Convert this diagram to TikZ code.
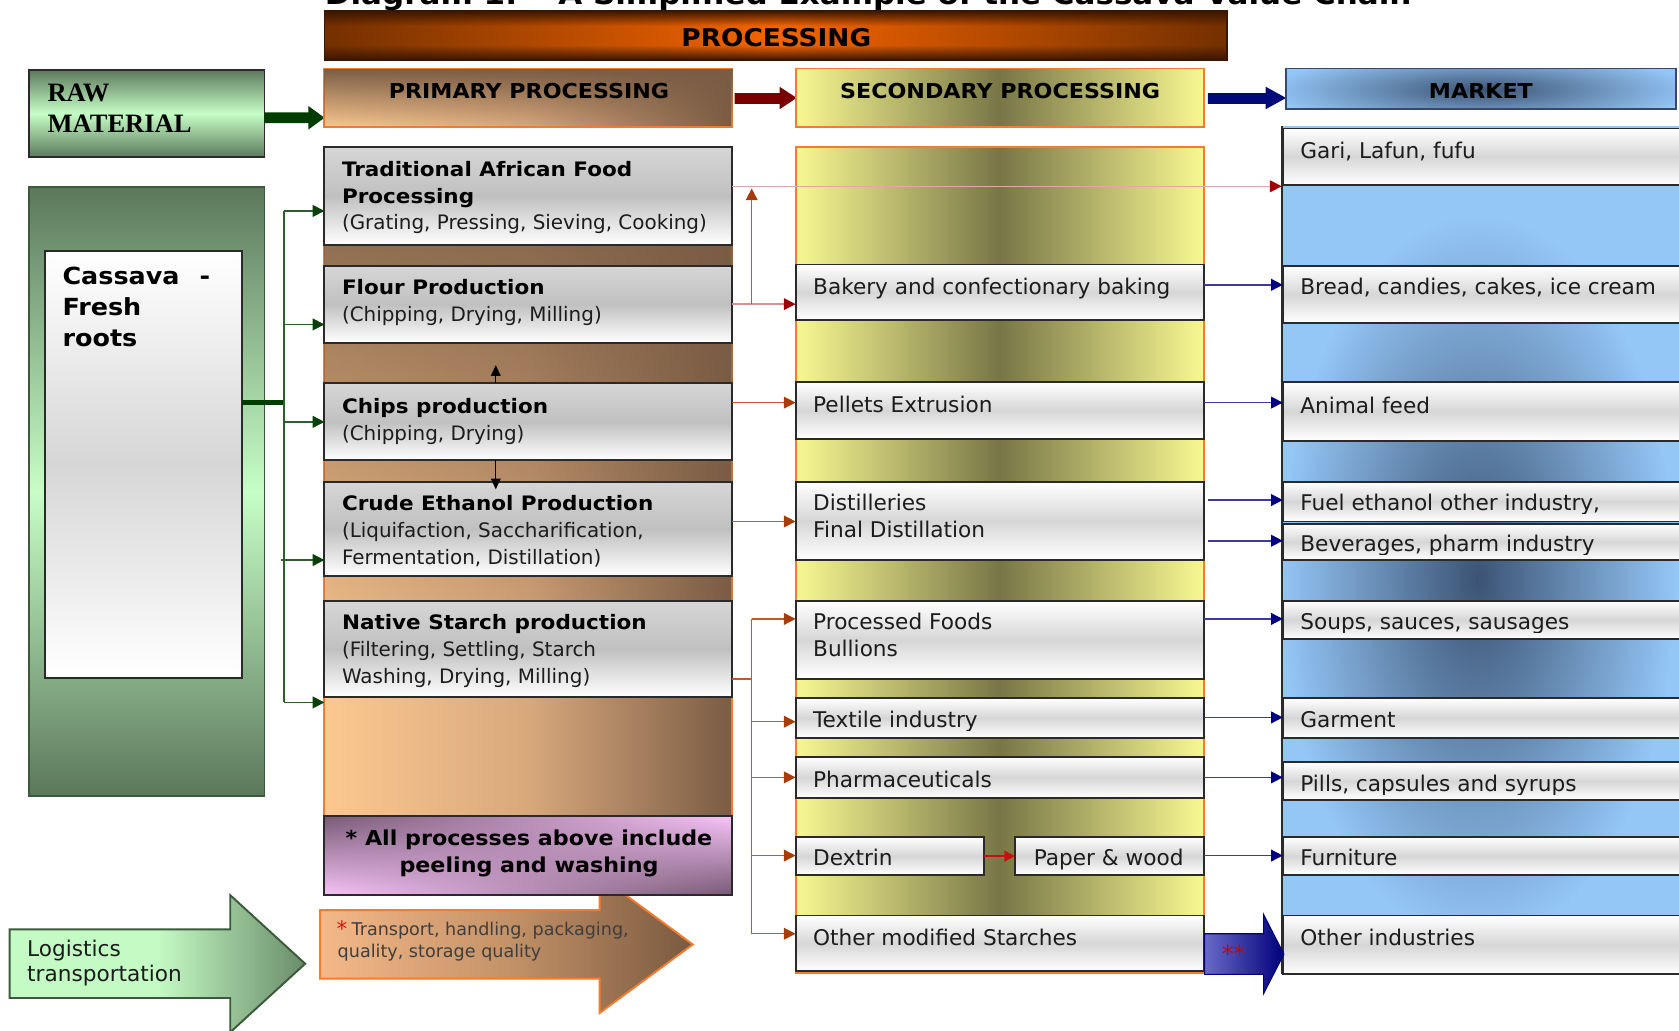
\documentclass[tikz,border=0pt]{standalone}
\usepackage{fontspec}
\setmainfont{DejaVu Sans}[BoldFeatures={FakeStretch=1.08}]
\newfontfamily\rawserif{Liberation Serif}
\usetikzlibrary{fadings,fit,arrows.meta}

\definecolor{txt}{HTML}{1C1C1C}
\definecolor{procdark}{HTML}{743000}
\definecolor{procmid}{HTML}{F46400}
\definecolor{proctop}{HTML}{3A1600}
\definecolor{primpeach}{HTML}{FCC890}
\definecolor{primmid}{HTML}{D8A87C}
\definecolor{primbrown}{HTML}{7A5C44}
\definecolor{secyel}{HTML}{F8F892}
\definecolor{secolive}{HTML}{787646}
\definecolor{mktlight}{HTML}{94C6F6}
\definecolor{mktdark}{HTML}{3C5474}
\definecolor{mktline}{HTML}{3C466C}
\definecolor{grndark}{HTML}{5C785C}
\definecolor{grnlight}{HTML}{C6FEC6}
\definecolor{grnline}{HTML}{2E5E2E}
\definecolor{grnhead}{HTML}{0A400A}
\definecolor{grnborder}{HTML}{3A5A3A}
\definecolor{orng}{HTML}{F47C2C}
\definecolor{boxline}{HTML}{2A2A2A}
\definecolor{boxgrey}{HTML}{C0C0C0}
\definecolor{boxgrey2}{HTML}{D6D6D6}
\definecolor{pinkl}{HTML}{F8C4F8}
\definecolor{purpd}{HTML}{785A76}
\definecolor{brline}{HTML}{C05A28}
\definecolor{brhead}{HTML}{A83C08}
\definecolor{pinkline}{HTML}{E2A8A8}
\definecolor{pinkline2}{HTML}{D89090}
\definecolor{redhead}{HTML}{9C0000}
\definecolor{bline}{HTML}{3C3CA0}
\definecolor{bhead}{HTML}{000080}
\definecolor{arrred}{HTML}{7A0000}
\definecolor{arrblue}{HTML}{000A78}
\definecolor{arrgreen}{HTML}{003C00}
\definecolor{dexred}{HTML}{C81010}
\definecolor{starred}{HTML}{E01010}
\definecolor{logil}{HTML}{C4FAC4}
\definecolor{logid}{HTML}{6A8C6A}
\definecolor{trpeach}{HTML}{F4B888}
\definecolor{trmid}{HTML}{C49268}
\definecolor{trbrown}{HTML}{7A5A40}
\definecolor{bigbl}{HTML}{6A6AC8}
\definecolor{bigbd}{HTML}{00007A}

\tikzfading[name=fadetop, top color=transparent!0, bottom color=transparent!100]
\tikzfading[name=fadebottom, top color=transparent!100, bottom color=transparent!0]
\tikzfading[name=faderight, left color=transparent!100, right color=transparent!0]

\tikzset{
  area/.style={inner sep=0pt, outer sep=0pt},
  boxP/.style={area, draw=boxline, line width=0.9pt, top color=boxgrey2, bottom color=white, middle color=boxgrey},
  boxS/.style={area, draw=boxline, line width=0.9pt, top color=white, bottom color=white, middle color=boxgrey2},
  tP/.style={anchor=base west, inner sep=0pt, text=txt, font=\fontsize{9.3}{11}\selectfont},
  tPb/.style={anchor=base west, inner sep=0pt, text=black, font=\fontsize{9.3}{11}\selectfont\bfseries},
  tS/.style={anchor=base west, inner sep=0pt, text=txt, font=\fontsize{10.1}{12}\selectfont},
  hdr/.style={anchor=base, inner sep=0pt, text=black, font=\fontsize{9.6}{11}\selectfont\bfseries},
  gar/.style={draw=grnline, line width=0.7pt, -{Triangle[length=5.5pt,width=5.5pt,color=grnhead]}},
  gln/.style={draw=grnline, line width=0.7pt},
  brar/.style={draw=brline, line width=0.7pt, -{Triangle[length=5.5pt,width=5.5pt,color=brhead]}},
  brln/.style={draw=brline, line width=0.7pt},
  pkar/.style={draw=pinkline, line width=0.6pt, -{Triangle[length=5.5pt,width=5.5pt,color=redhead]}},
  pkar2/.style={draw=pinkline2, line width=0.6pt, -{Triangle[length=5.5pt,width=5.5pt,color=redhead]}},
  bar/.style={draw=bline, line width=0.7pt, -{Triangle[length=5.5pt,width=5.5pt,color=bhead]}},
  bkar/.style={draw=black, line width=0.6pt, -{Triangle[length=5pt,width=4.5pt]}},
  redar/.style={draw=dexred, line width=1pt, -{Triangle[length=5pt,width=5pt,color=dexred]}},
}

\begin{document}
\begin{tikzpicture}[x=0.5pt,y=-0.5pt]
\useasboundingbox (0,0) rectangle (1568,962);

% ---------- title (cut at top, as in the source) ----------
\node[anchor=base west, inner sep=0pt, font=\fontsize{13.4}{15}\selectfont\bfseries] (title) at (303,4) {Diagram 1: -- A Simplified Example of the Cassava Value Chain};

% ---------- PROCESSING bar ----------
\node[area, fit={(303,10) (1146,56)}, draw=proctop, line width=0.7pt, left color=procdark, right color=procdark, middle color=procmid] (procbar) {};
\fill[proctop, path fading=fadetop] (303,10) rectangle (1146,24);
\fill[proctop, path fading=fadebottom] (303,42) rectangle (1146,56);
\node[anchor=base, inner sep=0pt, font=\fontsize{11.4}{13}\selectfont\bfseries] (proctxt) at (725,43) {PROCESSING};

% ---------- RAW MATERIAL ----------
\node[area, fit={(27,65) (247,147)}, draw=boxline, line width=0.9pt, top color=grndark, bottom color=grndark, middle color=grnlight] (raw) {};
\node[anchor=base west, inner sep=0pt, font=\fontsize{12.4}{14}\rawserif\bfseries] (raw1) at (44,95) {RAW};
\node[anchor=base west, inner sep=0pt, font=\fontsize{12.4}{14}\rawserif\bfseries] (raw2) at (44,124) {MATERIAL};
\fill[arrgreen] (247,105) -- (288,105) -- (288,99) -- (303,110) -- (288,121) -- (288,115) -- (247,115) -- cycle;

% ---------- headers ----------
\node[area, fit={(303,64) (684,119)}, draw=orng, line width=0.9pt, left color=primpeach, right color=primbrown, middle color=primmid] (primhdr) {};
\fill[primbrown, path fading=fadetop] (303,64) rectangle (684,119);
\node[hdr] (primhdrtxt) at (494,92) {PRIMARY PROCESSING};
\fill[arrred] (686,87) -- (728,87) -- (728,81) -- (744,91.5) -- (728,102) -- (728,97) -- (686,97) -- cycle;

\node[area, fit={(743,64) (1124,119)}, draw=orng, line width=0.9pt, left color=secyel, right color=secyel, middle color=secolive] (sechdr) {};
\node[hdr] (sechdrtxt) at (934,92) {SECONDARY PROCESSING};
\fill[arrblue] (1128,87) -- (1182,87) -- (1182,81) -- (1201,91.5) -- (1182,102) -- (1182,97) -- (1128,97) -- cycle;

\node[area, fit={(1201,64) (1565,102)}, fill=mktlight] (mkthdr) {};
\begin{scope}
  \clip (1201,64) rectangle (1565,102);
  \shade[inner color=mktdark, outer color=mktlight] (1383,84) ellipse [x radius=200, y radius=34];
\end{scope}
\draw[mktline, line width=0.9pt] (mkthdr.north west) rectangle (mkthdr.south east);
\node[hdr] (mkthdrtxt) at (1383,92) {MARKET};

% ---------- left green column ----------
\node[area, fit={(27,175) (247,743)}, draw=grnborder, line width=0.9pt, top color=grndark, bottom color=grndark, middle color=grnlight] (greencol) {};
\node[area, fit={(42,234) (226,633)}, draw=boxline, line width=0.9pt, top color=white, bottom color=white, middle color=boxgrey2] (cass) {};
\node[anchor=base west, inner sep=0pt, font=\fontsize{11}{13}\selectfont\bfseries] (cass1) at (58,266) {Cassava};
\node[anchor=base west, inner sep=0pt, font=\fontsize{11}{13}\selectfont\bfseries] (cass1b) at (186,266) {-};
\node[anchor=base west, inner sep=0pt, font=\fontsize{11}{13}\selectfont\bfseries] (cass2) at (58,295) {Fresh};
\node[anchor=base west, inner sep=0pt, font=\fontsize{11}{13}\selectfont\bfseries] (cass3) at (58,324) {roots};

% ---------- primary column ----------
\node[area, fit={(303,137) (684,762)}, draw=orng, line width=0.9pt, left color=primpeach, right color=primbrown, middle color=primmid] (primcol) {};
\fill[primbrown, path fading=fadetop] (303,137) rectangle (684,640);

\node[boxP, fit={(303,137) (684,229)}] (trad) {};
\node[boxP, fit={(303,248) (684,320)}] (flour) {};
\node[boxP, fit={(303,358) (684,430)}] (chips) {};
\node[boxP, fit={(303,450) (684,538)}] (crude) {};
\node[boxP, fit={(303,561) (684,651)}] (nat) {};

\node[tPb] (trad1) at (319,165) {Traditional African Food};
\node[tPb] (trad2) at (319,190) {Processing};
\node[tP]  (trad3) at (319,214) {(Grating, Pressing, Sieving, Cooking)};
\node[tPb] (flour1) at (319,275) {Flour Production};
\node[tP]  (flour2) at (319,300) {(Chipping, Drying, Milling)};
\node[tPb] (chips1) at (319,386) {Chips production};
\node[tP]  (chips2) at (319,411) {(Chipping, Drying)};
\node[tPb] (crude1) at (319,477) {Crude Ethanol Production};
\node[tP]  (crude2) at (319,502) {(Liquifaction, Saccharification,};
\node[tP]  (crude3) at (319,527) {Fermentation, Distillation)};
\node[tPb] (nat1) at (319,588) {Native Starch production};
\node[tP]  (nat2) at (319,613) {(Filtering, Settling, Starch};
\node[tP]  (nat3) at (319,638) {Washing, Drying, Milling)};

% ---------- transport arrow (behind pink box) ----------
\path[draw=orng, line width=0.9pt, left color=trpeach, right color=trbrown, middle color=trmid]
  (299,850) -- (560,850) -- (560,818) -- (647,882) -- (560,946) -- (560,914) -- (299,914) -- cycle;
\node[anchor=base west, inner sep=0pt, text=starred, font=\fontsize{10}{12}\selectfont] (trstar) at (314,875) {*};
\node[anchor=base west, inner sep=0pt, text=txt!85, font=\fontsize{8.2}{10}\selectfont] (tr1) at (328,874) {Transport, handling, packaging,};
\node[anchor=base west, inner sep=0pt, text=txt!85, font=\fontsize{8.2}{10}\selectfont] (tr2) at (315,894) {quality, storage quality};

% ---------- pink note ----------
\node[area, fit={(303,762) (684,836)}, draw=boxline, line width=0.9pt, top color=purpd, bottom color=pinkl] (pink) {};
\shade[top color=pinkl, bottom color=purpd, path fading=faderight] (303.5,762.5) rectangle (683.5,835.5);
\draw[boxline, line width=0.9pt] (pink.north west) rectangle (pink.south east);
\node[hdr] (pink1) at (494,790) {* All processes above include};
\node[hdr] (pink2) at (494,815) {peeling and washing};

% ---------- logistics arrow ----------
\path[draw=grnborder, line width=0.9pt, left color=logil, right color=logid, middle color=logil]
  (9,868) -- (215,868) -- (215,836) -- (285,900) -- (215,964) -- (215,932) -- (9,932) -- cycle;
\node[tS] (log1) at (25,893) {Logistics};
\node[tS] (log2) at (25,917) {transportation};

% ---------- secondary column ----------
\node[area, fit={(743,137) (1124,909)}, draw=orng, line width=0.9pt, left color=secyel, right color=secyel, middle color=secolive] (seccol) {};
\node[boxS, fit={(743,247) (1124,299)}] (bak) {};
\node[boxS, fit={(743,357) (1124,410)}] (pel) {};
\node[boxS, fit={(743,450) (1124,523)}] (dis) {};
\node[boxS, fit={(743,561) (1124,634)}] (pf) {};
\node[boxS, fit={(743,652) (1124,689)}] (tex) {};
\node[boxS, fit={(743,707) (1124,745)}] (pha) {};
\node[boxS, fit={(743,782) (919,817)}] (dex) {};
\node[boxS, fit={(948,782) (1124,817)}] (pap) {};
\node[boxS, fit={(743,855) (1124,907)}] (oms) {};

\node[tS] (baktxt) at (759,275) {Bakery and confectionary baking};
\node[tS] (peltxt) at (759,385) {Pellets Extrusion};
\node[tS] (dis1) at (759,477) {Distilleries};
\node[tS] (dis2) at (759,502) {Final Distillation};
\node[tS] (pf1) at (759,588) {Processed Foods};
\node[tS] (pf2) at (759,613) {Bullions};
\begin{scope}
  \clip (743,652) rectangle (1124,682);
  \node[tS] (textxt) at (759,679) {Textile industry};
\end{scope}
\node[tS] (phatxt) at (759,735) {Pharmaceuticals};
\node[tS] (dextxt) at (759,808) {Dextrin};
\node[tS] (paptxt) at (965,808) {Paper \& wood};
\node[tS] (omstxt) at (759,883) {Other modified Starches};

% ---------- market column ----------
\node[area, fit={(1197,118) (1580,910)}, fill=mktlight] (mktcol) {};
\begin{scope}
  \clip (1197,118) rectangle (1580,910);
  \shade[inner color=mktdark, outer color=mktlight] (1380,540) ellipse [x radius=185, y radius=340];
\end{scope}
\draw[boxline, line width=0.9pt] (1197,118) -- (1197,910);

\node[boxS, fit={(1198,120) (1580,173)}] (gari) {};
\node[boxS, fit={(1198,248) (1580,302)}] (bread) {};
\node[boxS, fit={(1198,357) (1580,412)}] (animal) {};
\node[boxS, fit={(1198,450) (1580,487)}] (fuel) {};
\node[boxS, fit={(1198,489) (1580,523)}] (bev) {};
\node[boxS, fit={(1198,561) (1580,597)}] (soups) {};
\node[boxS, fit={(1198,652) (1580,689)}] (garment) {};
\node[boxS, fit={(1198,712) (1580,747)}] (pills) {};
\node[boxS, fit={(1198,782) (1580,817)}] (furn) {};
\node[boxS, fit={(1198,855) (1580,910)}] (othind) {};

\node[tS] (garitxt) at (1214,148) {Gari, Lafun, fufu};
\node[tS] (breadtxt) at (1214,275) {Bread, candies, cakes, ice cream};
\node[tS] (animaltxt) at (1214,386) {Animal feed};
\begin{scope}
  \clip (1198,450) rectangle (1580,480);
  \node[tS] (fueltxt) at (1214,477) {Fuel ethanol other industry,};
\end{scope}
\begin{scope}
  \clip (1198,489) rectangle (1580,518);
  \node[tS] (bevtxt) at (1214,515) {Beverages, pharm industry};
\end{scope}
\begin{scope}
  \clip (1198,561) rectangle (1580,591);
  \node[tS] (soupstxt) at (1214,588) {Soups, sauces, sausages};
\end{scope}
\node[tS] (garmenttxt) at (1214,679) {Garment};
\begin{scope}
  \clip (1198,712) rectangle (1580,742);
  \node[tS] (pillstxt) at (1214,739) {Pills, capsules and syrups};
\end{scope}
\node[tS] (furntxt) at (1214,808) {Furniture};
\node[tS] (othindtxt) at (1214,883) {Other industries};

% ---------- green connectors ----------
\coordinate (gj) at (265,376);
\coordinate (gtop) at (265,197);
\coordinate (gbot) at (265,656);
\coordinate (g1) at (265,197);
\coordinate (g2) at (265,303);
\coordinate (g3) at (265,394);
\coordinate (g4) at (262,523);
\coordinate (g5) at (265,656);
\draw[draw=arrgreen, line width=2.6pt] (cass.east |- gj) -- (gj);
\draw[gln] (gtop) -- (gbot);
\draw[gar] (g1) -- (g1 -| trad.west);
\draw[gar] (g2) -- (g2 -| flour.west);
\draw[gar] (g3) -- (g3 -| chips.west);
\draw[gar] (g4) -- (g4 -| crude.west);
\draw[gar] (g5) -- (g5 -| primcol.west);

% ---------- primary -> secondary connectors ----------
\coordinate (ytrad) at (0,174);
\coordinate (yflour) at (0,284);
\coordinate (ychips) at (0,376);
\coordinate (ycrude) at (0,487);
\coordinate (fup) at (702,284);
\coordinate (fupend) at (702,176);
\coordinate (nj) at (702,634);
\coordinate (nb1) at (702,578);
\coordinate (nb2) at (702,674);
\coordinate (nb3) at (702,726);
\coordinate (nb4) at (702,799);
\coordinate (nb5) at (702,872);
\draw[pkar] (trad.east |- ytrad) -- (mktcol.west |- ytrad);
\draw[pkar2] (flour.east |- yflour) -- (bak.west |- yflour);
\draw[brar] (fup) -- (fupend);
\draw[brar] (chips.east |- ychips) -- (pel.west |- ychips);
\draw[brar] (crude.east |- ycrude) -- (dis.west |- ycrude);
\draw[brln] (nat.east |- nj) -- (nj);
\draw[brln] (nb1) -- (nb5);
\draw[brar] (nb1) -- (nb1 -| pf.west);
\draw[brar] (nb2) -- (nb2 -| tex.west);
\draw[brar] (nb3) -- (nb3 -| pha.west);
\draw[brar] (nb4) -- (nb4 -| dex.west);
\draw[brar] (nb5) -- (nb5 -| oms.west);

% ---------- small black arrows ----------
\coordinate (cu0) at (463,358);
\coordinate (cu1) at (463,341);
\coordinate (cd0) at (463,430);
\coordinate (cd1) at (463,457);
\draw[bkar] (cu0) -- (cu1);
\draw[bkar] (cd0) -- (cd1);

% ---------- dextrin -> paper ----------
\draw[redar] (dex.east) -- (pap.west);

% ---------- secondary -> market ----------
\coordinate (y1) at (0,266);
\coordinate (y2) at (0,376);
\coordinate (y3) at (0,467);
\coordinate (y4) at (0,505);
\coordinate (y5) at (0,578);
\coordinate (y6) at (0,670);
\coordinate (y7) at (0,726);
\coordinate (y8) at (0,799);
\draw[bar] (bak.east |- y1) -- (bread.west |- y1);
\draw[bar] (pel.east |- y2) -- (animal.west |- y2);
\draw[bar] ([xshift=2pt]dis.east |- y3) -- (fuel.west |- y3);
\draw[bar] ([xshift=2pt]dis.east |- y4) -- (bev.west |- y4);
\draw[bar] (pf.east |- y5) -- (soups.west |- y5);
\draw[bar] (tex.east |- y6) -- (garment.west |- y6);
\draw[bar] (pha.east |- y7) -- (pills.west |- y7);
\draw[bar] (pap.east |- y8) -- (furn.west |- y8);

% ---------- big blue arrow ----------
\path[draw=bigbd, line width=0.5pt, left color=bigbl, right color=bigbd]
  (1125,872) -- (1180,872) -- (1180,854) -- (1199,891) -- (1180,928) -- (1180,910) -- (1125,910) -- cycle;
\node[anchor=base, inner sep=0pt, text=starred!80!black, font=\fontsize{11}{12}\selectfont] (stars) at (1152,899) {**};

\end{tikzpicture}
\end{document}
